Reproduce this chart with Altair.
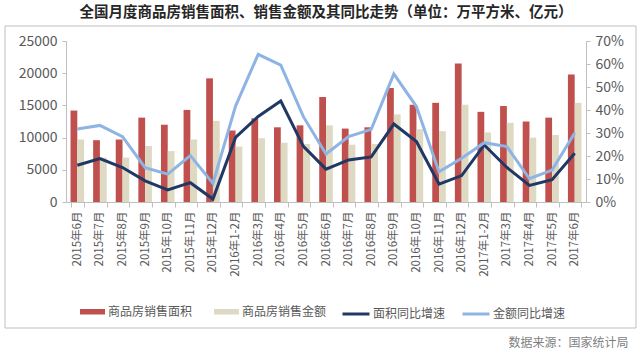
import altair as alt
import pandas as pd

cats = ["2015年6月", "2015年7月", "2015年8月", "2015年9月", "2015年10月", "2015年11月",
        "2015年12月", "2016年1-2月", "2016年3月", "2016年4月", "2016年5月", "2016年6月",
        "2016年7月", "2016年8月", "2016年9月", "2016年10月", "2016年11月", "2016年12月",
        "2017年1-2月", "2017年3月", "2017年4月", "2017年5月", "2017年6月"]
area = [14200, 9600, 9700, 13100, 12000, 14300, 19200, 11100, 13000, 11600, 11900, 16300,
        11400, 11600, 17700, 15100, 15400, 21500, 14000, 14900, 12500, 13100, 19800]
amount = [9700, 6900, 6900, 8700, 7900, 9700, 12600, 8600, 9900, 9200, 9000, 11900,
          8900, 9000, 13600, 11300, 11000, 15100, 10800, 12300, 10000, 10400, 15400]
area_yoy = [16.0, 18.9, 15.0, 9.2, 5.3, 8.4, 1.3, 28.1, 37.2, 43.9, 24.2, 14.3,
            18.3, 19.6, 33.9, 26.3, 7.8, 11.5, 24.8, 15.0, 7.2, 9.7, 21.2]
amount_yoy = [31.7, 33.3, 28.4, 14.9, 12.1, 20.2, 8.1, 41.7, 64.2, 59.5, 37.1, 20.9,
              28.4, 31.6, 55.7, 41.5, 13.1, 19.0, 25.8, 24.1, 10.1, 13.9, 30.0]

bar_series = ["商品房销售面积", "商品房销售金额"]
line_series = ["面积同比增速", "金额同比增速"]
title_text = "全国月度商品房销售面积、销售金额及其同比走势（单位：万平方米、亿元）"
source_text = "数据来源：国家统计局"

bars_df = pd.DataFrame(
    [{"cat": c, "series": bar_series[0], "value": v} for c, v in zip(cats, area)]
    + [{"cat": c, "series": bar_series[1], "value": v} for c, v in zip(cats, amount)]
)
lines_df = pd.DataFrame(
    [{"cat": c, "series": line_series[0], "value": v / 100} for c, v in zip(cats, area_yoy)]
    + [{"cat": c, "series": line_series[1], "value": v / 100} for c, v in zip(cats, amount_yoy)]
)

FONT = "Noto Sans CJK SC"
GREY = "#595959"
AXC = "#BFBFBF"

x_enc = alt.X(
    "cat:N", sort=cats, title=source_text,
    scale=alt.Scale(paddingInner=0.4, paddingOuter=0.2),
    axis=alt.Axis(labelAngle=-90, labelAlign="right", labelBaseline="middle",
                  labelFontSize=11.5, labelFont=FONT, labelColor=GREY, labelPadding=4,
                  tickBand="extent", tickSize=5, tickColor=AXC, domainColor=AXC,
                  labelFlush=False, labelOverlap=False,
                  titleX=562, titleY=140, titleAlign="right", titleBaseline="middle",
                  titleFont=FONT, titleFontSize=12, titleFontWeight="normal",
                  titleColor="#7F7F7F"),
)

bars = alt.Chart(bars_df).mark_bar().encode(
    x=x_enc,
    xOffset=alt.XOffset("series:N", sort=bar_series,
                        scale=alt.Scale(paddingInner=0, paddingOuter=0)),
    y=alt.Y("value:Q", title=None,
            scale=alt.Scale(domain=[0, 25000]),
            axis=alt.Axis(orient="left", values=[0, 5000, 10000, 15000, 20000, 25000],
                          format="d",
                          grid=False, tickSize=4, tickColor=AXC, domainColor=AXC,
                          labelFontSize=14, labelFont=FONT, labelColor=GREY,
                          labelPadding=5)),
    color=alt.Color("series:N", sort=bar_series,
                    scale=alt.Scale(domain=bar_series, range=["#C0504D", "#DDD9C3"]),
                    legend=alt.Legend(orient="none", legendX=14, legendY=258,
                                      direction="horizontal", title=None,
                                      symbolType="M-1,-0.22H1V0.22H-1Z", symbolSize=625,
                                      symbolStrokeWidth=0,
                                      labelFontSize=12, labelFont=FONT, labelColor=GREY,
                                      labelOffset=3, columnPadding=21, padding=0)),
)

lines = alt.Chart(lines_df).mark_line(strokeWidth=3).encode(
    x=x_enc,
    y=alt.Y("value:Q", title=None,
            scale=alt.Scale(domain=[0, 0.7]),
            axis=alt.Axis(orient="right", values=[0, 0.1, 0.2, 0.3, 0.4, 0.5, 0.6, 0.7],
                          format=".0%", grid=False, tickSize=4, tickColor=AXC,
                          domainColor=AXC, labelFontSize=14, labelFont=FONT,
                          labelColor=GREY, labelPadding=5)),
    stroke=alt.Stroke("series:N", sort=line_series,
                      scale=alt.Scale(domain=line_series, range=["#1F3864", "#8EB4E3"]),
                      legend=alt.Legend(orient="none", legendX=275, legendY=258,
                                        direction="horizontal", title=None,
                                        symbolType="stroke", symbolSize=729,
                                        symbolStrokeWidth=3,
                                        labelFontSize=12, labelFont=FONT, labelColor=GREY,
                                        labelOffset=2, columnPadding=10, padding=0)),
    order=alt.Order("series:N", sort="descending"),
)

frame = alt.Chart(pd.DataFrame({"a": [0]})).mark_rect(
    fill=None, stroke=AXC, strokeWidth=1
).encode(
    x=alt.value(-61), x2=alt.value(570), y=alt.value(-15), y2=alt.value(287)
)

chart = alt.layer(frame, bars, lines).resolve_scale(
    y="independent"
).properties(
    width=520, height=161,
    title=alt.TitleParams(title_text, fontSize=14.5, fontWeight="bold", font=FONT,
                          color="#262626", anchor="middle", offset=5),
    autosize=alt.AutoSizeParams(type="none"),
    padding={"left": 66, "top": 41, "right": 54, "bottom": 151},
).configure_view(stroke=None)

chart.save("out.html", embed_options={"renderer": "svg", "actions": False})
